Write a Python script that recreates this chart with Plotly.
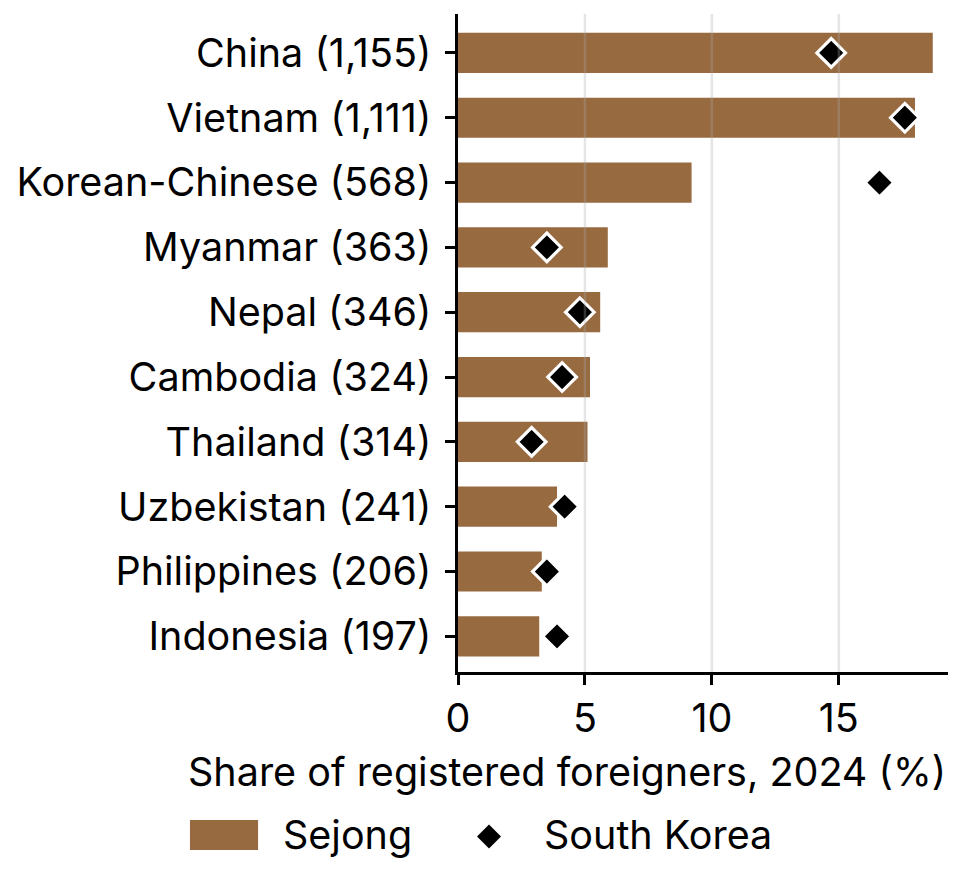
import plotly.graph_objects as go

categories = ["China (1,155)", "Vietnam (1,111)", "Korean-Chinese (568)", "Myanmar (363)",
              "Nepal (346)", "Cambodia (324)", "Thailand (314)", "Uzbekistan (241)",
              "Philippines (206)", "Indonesia (197)"]
sejong = [18.7, 18.0, 9.2, 5.9, 5.6, 5.2, 5.1, 3.9, 3.3, 3.2]
south_korea = [14.7, 17.6, 16.6, 3.5, 4.8, 4.1, 2.9, 4.2, 3.5, 3.9]
x_ticks = [0, 5, 10, 15]

BAR = "#976A40"
FONT = "Inter"
FS = 39.5

fig = go.Figure()
fig.add_trace(go.Bar(y=categories, x=sejong, orientation="h", marker_color=BAR,
                     marker_line_width=0, name="Sejong", showlegend=False))
fig.add_trace(go.Scatter(y=categories, x=south_korea, mode="markers", name="South Korea",
                         marker=dict(symbol="diamond", size=22, color="black",
                                     line=dict(color="white", width=3.2)),
                         showlegend=False))

# grid lines drawn above the bars (semi-transparent)
for t in x_ticks[1:]:
    fig.add_shape(type="line", xref="x", yref="paper", x0=t, x1=t, y0=0, y1=1,
                  line=dict(color="rgba(170,170,170,0.3)", width=2.5), layer="above")

fig.update_layout(
    width=962, height=873,
    margin=dict(l=450, r=22, t=6, b=209),
    plot_bgcolor="white", paper_bgcolor="white",
    font=dict(family=FONT, size=FS, color="black"),
    bargap=0.38,
    xaxis=dict(range=[0, 19.3], tickvals=x_ticks, showgrid=False,
               showline=True, linecolor="black", linewidth=2.5,
               ticks="outside", ticklen=10, tickwidth=2.5, tickcolor="black",
               zeroline=False, tickfont=dict(size=FS)),
    yaxis=dict(categoryorder="array", categoryarray=categories, range=[9.55, -0.6],
               showline=True, linecolor="black", linewidth=2.5, ticks="outside",
               ticklen=10, tickwidth=2.5, tickcolor="black", showgrid=False,
               ticklabelstandoff=6, tickfont=dict(size=FS)),
)

fig.add_annotation(text="Share of registered foreigners, 2024 (%)", xref="paper", yref="paper",
                   x=1.0, y=-0.152, xanchor="right", yanchor="middle", showarrow=False,
                   font=dict(size=FS))

# legend drawn manually
fig.add_shape(type="rect", xref="paper", yref="paper", x0=-0.547, x1=-0.408,
              y0=-0.2705, y1=-0.225, fillcolor=BAR, line_width=0)
fig.add_annotation(text="Sejong", xref="paper", yref="paper", x=-0.362, y=-0.2477,
                   xanchor="left", yanchor="middle", showarrow=False, font=dict(size=FS))
fig.add_shape(type="path", xref="paper", yref="paper", xsizemode="pixel", ysizemode="pixel",
              xanchor=0.0633, yanchor=-0.2500, path="M-12,0 L0,12 L12,0 L0,-12 Z",
              fillcolor="black", line_width=0)
fig.add_annotation(text="South Korea", xref="paper", yref="paper", x=0.172, y=-0.2477,
                   xanchor="left", yanchor="middle", showarrow=False, font=dict(size=FS))

fig.write_html("out.html")
